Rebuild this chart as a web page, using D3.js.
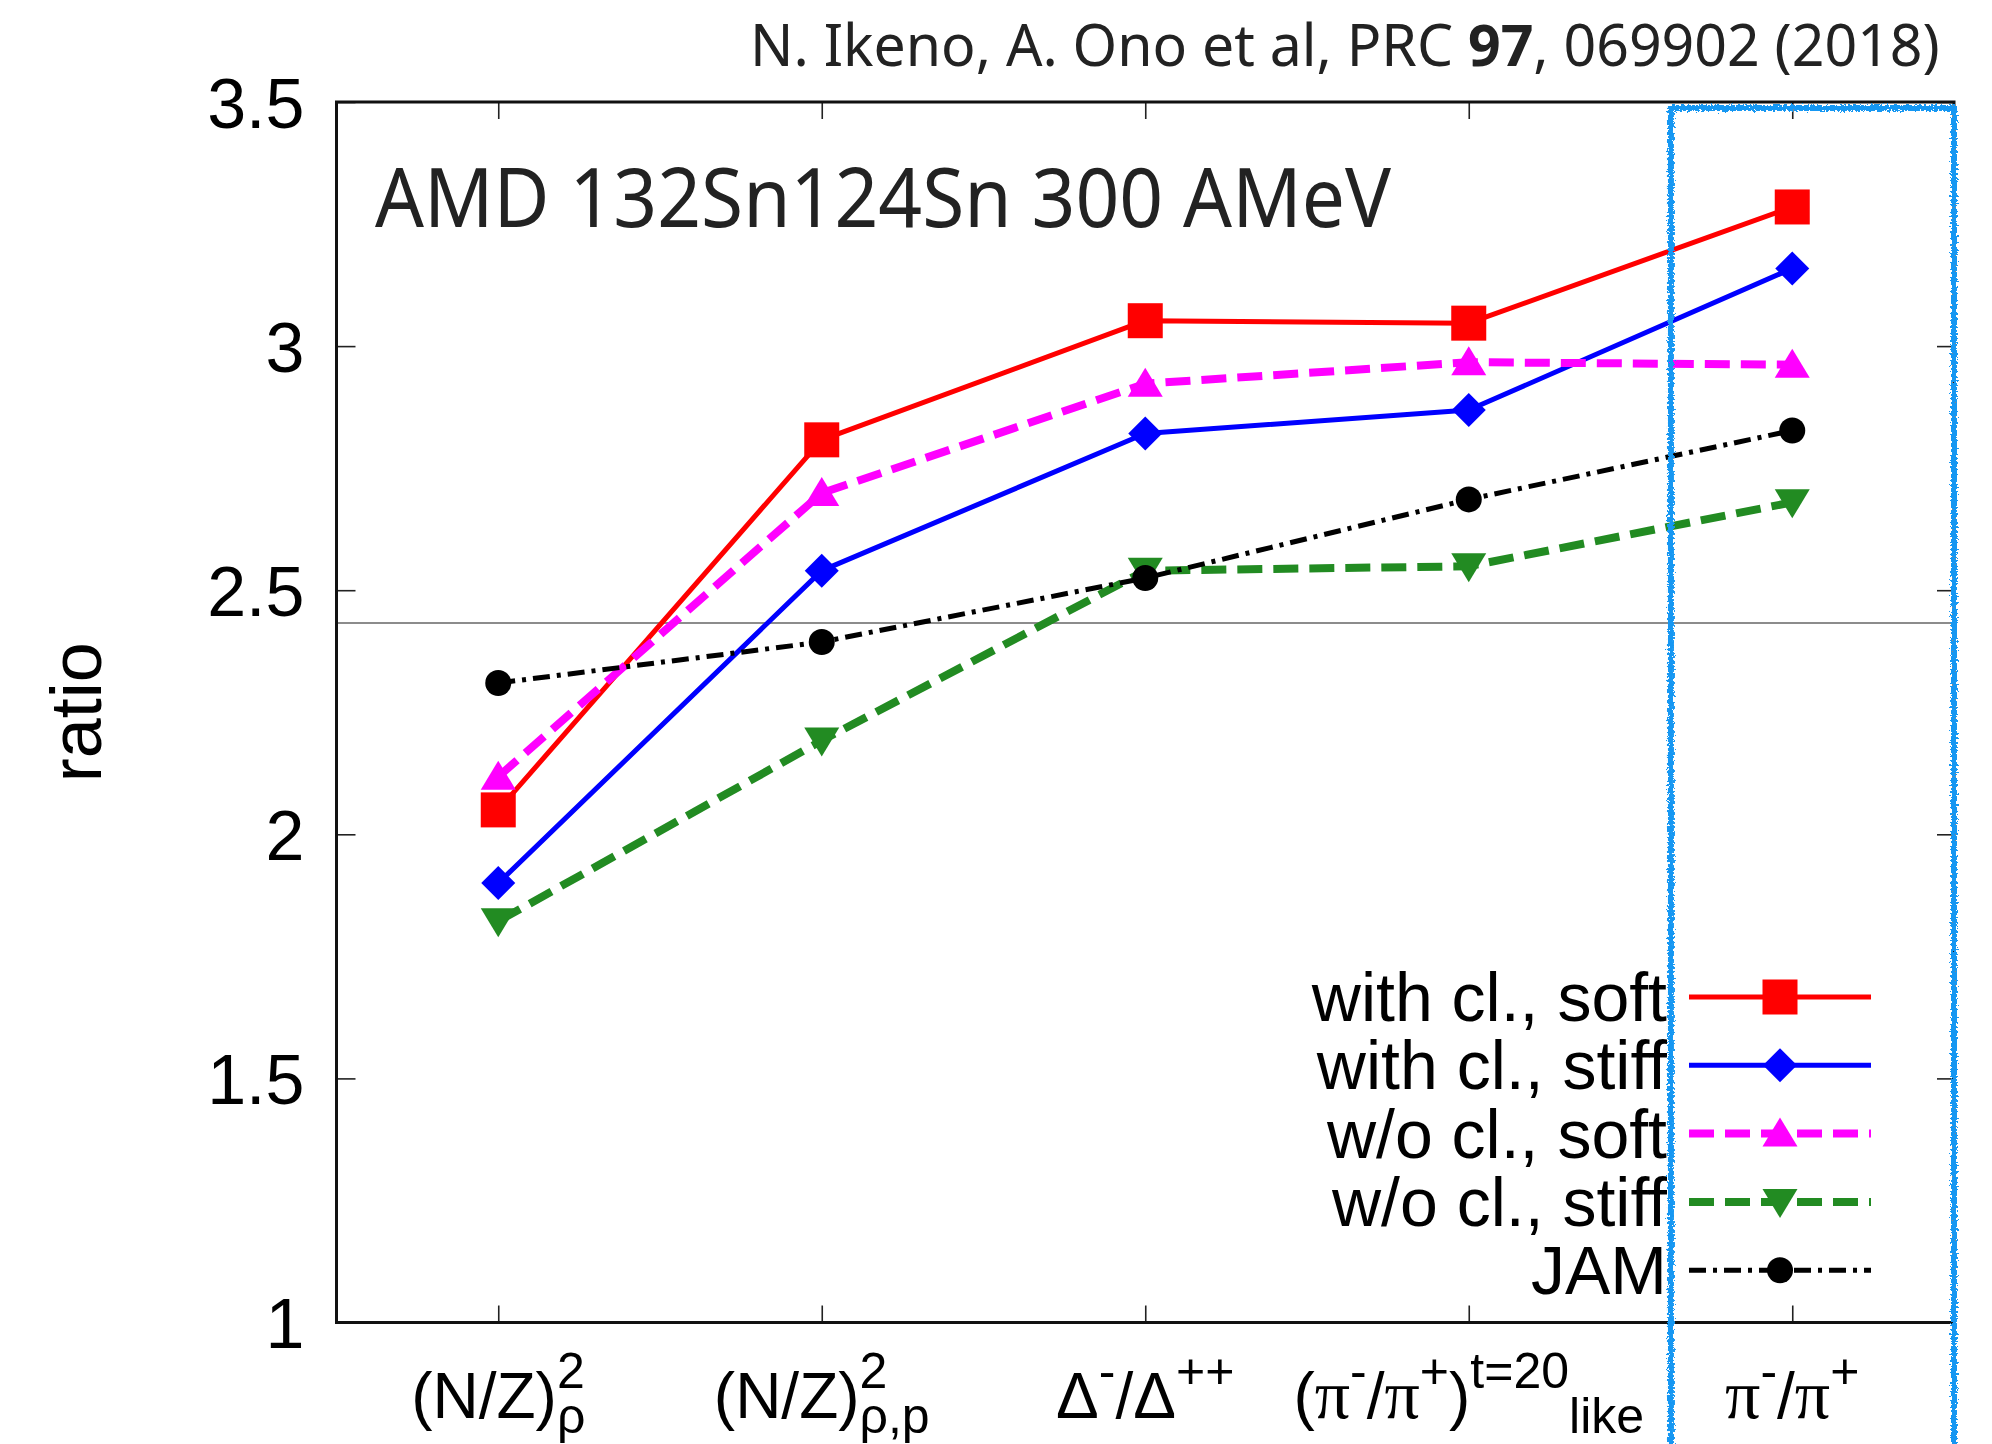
<!DOCTYPE html>
<html>
<head>
<meta charset="utf-8">
<script src="https://cdn.jsdelivr.net/npm/d3@7"></script>
<style>
  html, body { margin: 0; padding: 0; background: #fff; }
  svg { display: block; }
</style>
</head>
<body>
<script>
// ---- data -------------------------------------------------------------
// x-axis categories, written as rich-text pieces (main / superscript / subscript)
const categories = [
  [{t: "(N/Z)", r: "main"}, {t: "2", r: "sup"}, {t: "ρ", r: "sub", stack: true}],
  [{t: "(N/Z)", r: "main"}, {t: "2", r: "sup"}, {t: "ρ,p", r: "sub", stack: true}],
  [{t: "Δ", r: "main"}, {t: "-", r: "sup"}, {t: "/Δ", r: "main"}, {t: "++", r: "sup"}],
  [{t: "(", r: "main"}, {t: "π", r: "main", serif: true}, {t: "-", r: "sup"}, {t: "/", r: "main"},
   {t: "π", r: "main", serif: true}, {t: "+", r: "sup"}, {t: ")", r: "main"},
   {t: "t=20", r: "sup"}, {t: "like", r: "sub"}],
  [{t: "π", r: "main", serif: true}, {t: "-", r: "sup"}, {t: "/", r: "main"},
   {t: "π", r: "main", serif: true}, {t: "+", r: "sup"}]
];

const seriesNames = ["with cl., soft", "with cl., stiff", "w/o cl., soft", "w/o cl., stiff", "JAM"];

const withClSoft  = [2.05, 2.808, 3.052, 3.047, 3.285];
const withClStiff = [1.90, 2.54, 2.821, 2.869, 3.159];
const woClSoft    = [2.118, 2.699, 2.923, 2.967, 2.962];
const woClStiff   = [1.822, 2.192, 2.54, 2.549, 2.68];
const jam         = [2.31, 2.394, 2.525, 2.686, 2.827];

const yTickValues = [1, 1.5, 2, 2.5, 3, 3.5];
const yTickLabels = ["1", "1.5", "2", "2.5", "3", "3.5"];
const referenceLevel = [2.433];

// ---- canvas -----------------------------------------------------------
const W = 1992, H = 1444;
const M = {left: 336.5, right: 1954, top: 102, bottom: 1322.5};
const SANS = "'Liberation Sans', Arial, Helvetica, sans-serif";
const SERIF = "'Liberation Serif', 'Times New Roman', serif";
const NOTO = "'Noto Sans', 'Open Sans', sans-serif";

const svg = d3.select("body").append("svg")
  .attr("width", W).attr("height", H)
  .attr("viewBox", `0 0 ${W} ${H}`);

svg.append("rect").attr("width", W).attr("height", H).attr("fill", "#fff");

const x = d3.scalePoint()
  .domain(d3.range(categories.length))
  .range([M.left, M.right])
  .padding(0.5);

const y = d3.scaleLinear().domain([1, 3.5]).range([M.bottom, M.top]);

// ---- axes (ticks point inward on all four sides) ----------------------
const tickStyle = g => {
  g.select(".domain").remove();
  g.selectAll(".tick line").attr("stroke", "#222").attr("stroke-width", 1.6);
};

const leftAxis = svg.append("g")
  .attr("transform", `translate(${M.left},0)`)
  .call(d3.axisLeft(y).tickValues(yTickValues)
    .tickFormat((d, i) => yTickLabels[i])
    .tickSize(-19).tickPadding(32))
  .call(tickStyle);
leftAxis.selectAll("text")
  .attr("font-family", SANS).attr("font-size", 70)
  .attr("fill", "#000").attr("dy", "0.36em");

svg.append("g")
  .attr("transform", `translate(${M.right},0)`)
  .call(d3.axisRight(y).tickValues(yTickValues).tickFormat("").tickSize(-17))
  .call(tickStyle);

svg.append("g")
  .attr("transform", `translate(0,${M.bottom})`)
  .call(d3.axisBottom(x).tickFormat("").tickSize(-17))
  .call(tickStyle);

svg.append("g")
  .attr("transform", `translate(0,${M.top})`)
  .call(d3.axisTop(x).tickFormat("").tickSize(-17))
  .call(tickStyle);

// thin horizontal reference level
svg.selectAll(".ref").data(referenceLevel).enter().append("line")
  .attr("class", "ref")
  .attr("x1", M.left).attr("x2", M.right)
  .attr("y1", d => y(d)).attr("y2", d => y(d))
  .attr("stroke", "#8c8c8c").attr("stroke-width", 2);

// plot frame
svg.append("rect")
  .attr("x", M.left).attr("y", M.top)
  .attr("width", M.right - M.left).attr("height", M.bottom - M.top)
  .attr("fill", "none").attr("stroke", "#111").attr("stroke-width", 3);

// ---- category labels with super/subscripts ----------------------------
// each label is one <text>; its pieces are tspans placed side by side,
// a "stack" piece sits under the previous one (a^b_c layout)
const roleStyle = {
  main: {size: 64, shift: 0},
  sup:  {size: 50, shift: -30},
  sub:  {size: 50, shift: 15}
};
const labelBaseline = 1418;
categories.forEach((parts, i) => {
  const t = svg.append("text").attr("fill", "#000");
  let cursor = 0, lastStart = 0;
  const spans = parts.map(p => {
    const st = roleStyle[p.r];
    const startX = p.stack ? lastStart : cursor;
    const s = t.append("tspan")
      .attr("font-family", p.serif ? SERIF : SANS)
      .attr("font-size", p.serif ? st.size + 6 : st.size)
      .attr("x", startX).attr("y", st.shift)
      .text(p.t);
    const w = s.node().getComputedTextLength();
    lastStart = startX;
    cursor = Math.max(cursor, startX + w);
    return s;
  });
  t.attr("transform", `translate(${x(i) - cursor / 2},${labelBaseline})`);
});

// y-axis title
svg.append("text")
  .attr("transform", `translate(101,${(M.top + M.bottom) / 2}) rotate(-90)`)
  .attr("text-anchor", "middle")
  .attr("font-family", SANS).attr("font-size", 72).attr("fill", "#000")
  .text("ratio");

// ---- markers ----------------------------------------------------------
function marker(g, type, color) {
  switch (type) {
    case "square":
      return g.append("rect").attr("x", -17.5).attr("y", -17.5)
        .attr("width", 35).attr("height", 35).attr("fill", color);
    case "diamond":
      return g.append("path").attr("d", "M0,-17L17,0L0,17L-17,0Z").attr("fill", color);
    case "up":
      return g.append("path").attr("d", "M0,-16L17.5,13L-17.5,13Z").attr("fill", color);
    case "down":
      return g.append("path").attr("d", "M0,16L17.5,-13L-17.5,-13Z").attr("fill", color);
    default:
      return g.append("circle").attr("r", 13).attr("fill", color);
  }
}

const series = [
  {name: seriesNames[0], values: withClSoft,  color: "#ff0000", width: 5,   dash: null,        mark: "square"},
  {name: seriesNames[1], values: withClStiff, color: "#0000ff", width: 5,   dash: null,        mark: "diamond"},
  {name: seriesNames[2], values: woClSoft,    color: "#ff00ff", width: 8,   dash: "25 11",     mark: "up"},
  {name: seriesNames[3], values: woClStiff,   color: "#228b22", width: 8,   dash: "25 11",     mark: "down"},
  {name: seriesNames[4], values: jam,         color: "#000000", width: 5,   dash: "17 7 4 7",  mark: "circle"}
];

const line = d3.line().x((d, i) => x(i)).y(d => y(d));

series.forEach(s => {
  const g = svg.append("g");
  g.append("path")
    .attr("d", line(s.values))
    .attr("fill", "none")
    .attr("stroke", s.color)
    .attr("stroke-width", s.width)
    .attr("stroke-dasharray", s.dash)
    .attr("stroke-linejoin", "round");
  s.values.forEach((v, i) => {
    const mg = g.append("g").attr("transform", `translate(${x(i)},${y(v)})`);
    marker(mg, s.mark, s.color);
  });
});

// ---- legend -----------------------------------------------------------
const legend = svg.append("g");
series.forEach((s, i) => {
  const ly = 997 + i * 68.3;
  legend.append("text")
    .attr("x", 1667).attr("y", ly + 24)
    .attr("text-anchor", "end")
    .attr("font-family", SANS).attr("font-size", 68).attr("fill", "#000")
    .text(s.name);
  legend.append("line")
    .attr("x1", 1689).attr("x2", 1871).attr("y1", ly).attr("y2", ly)
    .attr("stroke", s.color).attr("stroke-width", s.width)
    .attr("stroke-dasharray", s.dash);
  marker(legend.append("g").attr("transform", `translate(1780,${ly})`), s.mark, s.color);
});

// ---- headings ---------------------------------------------------------
function fitWidth(sel, left, baseline, width) {
  const w = sel.node().getBBox().width;
  sel.attr("transform", `translate(${left},${baseline}) scale(${width / w},1)`);
}

const cite = svg.append("text")
  .attr("font-family", NOTO).attr("font-size", 58).attr("fill", "#222");
cite.append("tspan").text("N. Ikeno, A. Ono et al, PRC ");
cite.append("tspan").attr("font-weight", "bold").text("97");
cite.append("tspan").text(", 069902 (2018)");
fitWidth(cite, 750, 66, 1190);

const runTitle = svg.append("text")
  .attr("font-family", NOTO).attr("font-size", 82).attr("fill", "#222")
  .text("AMD 132Sn124Sn 300 AMeV");
fitWidth(runTitle, 375, 227, 1017);

// ---- highlight box around the last category ---------------------------
const rough = svg.append("defs").append("filter").attr("id", "rough")
  .attr("x", "-10%").attr("y", "-2%").attr("width", "120%").attr("height", "104%");
rough.append("feTurbulence").attr("type", "fractalNoise")
  .attr("baseFrequency", 0.45).attr("numOctaves", 2).attr("seed", 7).attr("result", "noise");
rough.append("feDisplacementMap").attr("in", "SourceGraphic").attr("in2", "noise")
  .attr("scale", 7).attr("xChannelSelector", "R").attr("yChannelSelector", "G");

const step = x.step();
svg.append("rect")
  .attr("x", x(4) - 0.375 * step)
  .attr("y", M.top + 6)
  .attr("width", M.right - (x(4) - 0.375 * step))
  .attr("height", H + 40 - M.top)
  .attr("fill", "none")
  .attr("stroke", "#1797f2")
  .attr("stroke-width", 6)
  .attr("filter", "url(#rough)");
</script>
</body>
</html>
